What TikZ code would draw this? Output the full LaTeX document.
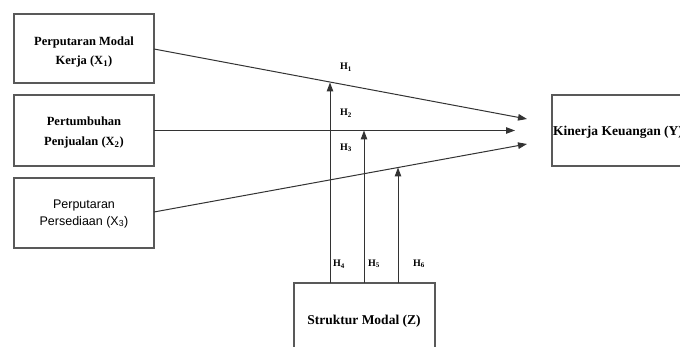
\documentclass[tikz,border=0pt]{standalone}
\usepackage{fontspec}
\setmainfont{Liberation Serif}
\newfontfamily\sansf{Liberation Sans}
\usetikzlibrary{arrows.meta}
\begin{document}
\begin{tikzpicture}[x=1pt,y=-1pt,
  box/.style={draw=black!65,line width=1.1pt,minimum width=140pt,inner sep=0pt},
  lbl/.style={font=\fontsize{12.5}{19.5}\selectfont\bfseries,align=center,inner sep=0pt},
  big/.style={font=\fontsize{13.5}{16}\selectfont\bfseries,inner sep=0pt},
  arr/.style={draw=black!80,line width=1pt,-{Triangle[length=9pt,width=6.5pt]}},
  hl/.style={font=\fontsize{10}{11}\selectfont\bfseries,inner sep=0pt}]
\useasboundingbox (0,0) rectangle (680,347);
\clip (0,0) rectangle (680,347);
\fill[white] (0,0) rectangle (680,347);
% boxes
\node[box,minimum height=69pt] (x1) at (84,48.5) {};
\node[lbl] at (84,52) {Perputaran Modal\\Kerja (X\textsubscript{1})};
\node[box,minimum height=71pt] (x2) at (84,130.5) {};
\node[lbl] at (84,132.5) {Pertumbuhan\\Penjualan (X\textsubscript{2})};
\node[box,minimum height=70pt] (x3) at (84,213) {};
\node[font=\sansf\fontsize{12.5}{17}\selectfont,align=center,inner sep=0pt] at (84,213.5) {Perputaran\\Persediaan (X\textsubscript{3})};
\node[box,minimum width=148pt,minimum height=71pt] (y) at (626,130.5) {};
\node[big,anchor=west] at (553,132) {Kinerja Keuangan (Y)};
\node[box,minimum width=141pt,minimum height=77pt] (z) at (364.5,321.5) {};
\node[big] at (364,321) {Struktur Modal (Z)};
% coordinates
\coordinate (s1) at (154,49);
\coordinate (t1) at (527,119);
\coordinate (s2) at (154,130.5);
\coordinate (t2) at (515,130.5);
\coordinate (s3) at (154,212);
\coordinate (t3) at (527,144);
\coordinate (b4) at (330,283);
\coordinate (e4) at (330,82.5);
\coordinate (b5) at (364,283);
\coordinate (e5) at (364,130.5);
\coordinate (b6) at (398,283);
\coordinate (e6) at (398,167.5);
% arrows
\draw[arr] (s1) -- (t1);
\draw[arr] (s2) -- (t2);
\draw[arr] (s3) -- (t3);
\draw[arr] (b4) -- (e4);
\draw[arr] (b5) -- (e5);
\draw[arr] (b6) -- (e6);
% labels
\node[hl] at (346,67) {H\textsubscript{1}};
\node[hl] at (346,113) {H\textsubscript{2}};
\node[hl] at (346,148) {H\textsubscript{3}};
\node[hl] at (339,264) {H\textsubscript{4}};
\node[hl] at (374,264) {H\textsubscript{5}};
\node[hl] at (419,264) {H\textsubscript{6}};
\end{tikzpicture}
\end{document}
